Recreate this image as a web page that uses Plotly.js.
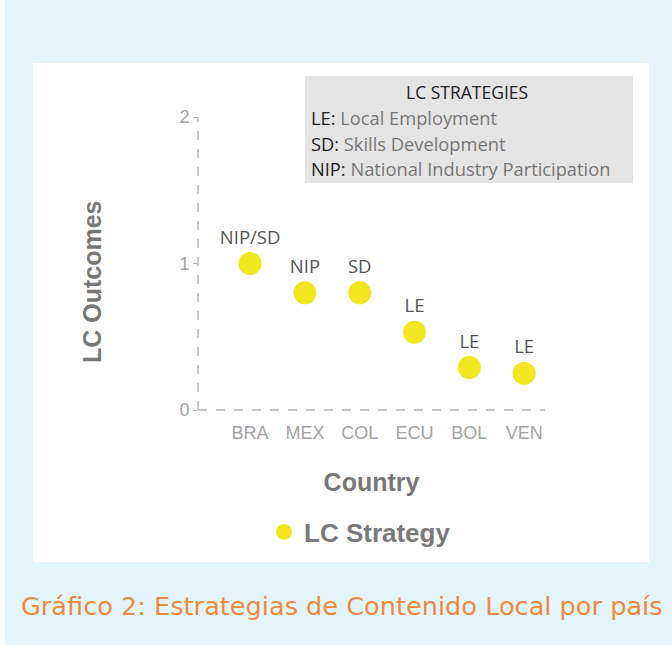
<!DOCTYPE html>
<html>
<head>
<meta charset="utf-8">
<script src="https://cdn.plot.ly/plotly-3.0.1.min.js"></script>
<style>html,body{margin:0;padding:0;background:#fff;}#chart{width:672px;height:645px;}</style>
</head>
<body>
<div id="chart"></div>
<script>
const countries = ["BRA", "MEX", "COL", "ECU", "BOL", "VEN"];
const outcomes = [1.0, 0.80, 0.80, 0.53, 0.29, 0.25];
const strategies = ["NIP/SD", "NIP", "SD", "LE", "LE", "LE"];
const seriesName = "LC Strategy";
const yTicks = [0, 1, 2];
const xTitle = "Country";
const yTitle = "LC Outcomes";
const legendTitle = "LC STRATEGIES";
const legendCodes = ["LE:", "SD:", "NIP:"];
const legendNames = ["Local Employment", "Skills Development", "National Industry Participation"];
const caption = "Gráfico 2: Estrategias de Contenido Local por país";

// plot area geometry (pixels)
const W = 672, H = 645, L = 198, R = 545, T = 117, B = 410;
const pw = R - L, ph = B - T;
const px = x => (x - L) / pw;
const py = y => (B - y) / ph;

const trace = {
  type: "scatter",
  mode: "markers+text",
  name: seriesName,
  x: countries,
  y: outcomes,
  text: strategies,
  textposition: "top center",
  textfont: {family: "Open Sans, Noto Sans, sans-serif", size: 18.5, color: "#555555"},
  marker: {size: 23, color: "#f1e620"},
  cliponaxis: false,
  hoverinfo: "x+y+text"
};

const shapes = [
  {type: "rect", xref: "paper", yref: "paper", x0: px(5), x1: px(672), y0: py(645), y1: py(0),
   fillcolor: "#e3f4fd", line: {width: 0}, layer: "below"},
  {type: "rect", xref: "paper", yref: "paper", x0: px(33), x1: px(649), y0: py(562), y1: py(63),
   fillcolor: "#ffffff", line: {width: 0}, layer: "below"},
  {type: "rect", xref: "paper", yref: "paper", x0: px(305), x1: px(633), y0: py(183), y1: py(76),
   fillcolor: "#e5e4e4", line: {width: 0}, layer: "below"},
  {type: "line", xref: "paper", yref: "paper", x0: 0, x1: 0, y0: 0, y1: 1,
   line: {color: "#b0b0b0", width: 1.3, dash: "dash"}, layer: "below"},
  {type: "line", xref: "paper", yref: "paper", x0: 0, x1: 1, y0: 0, y1: 0,
   line: {color: "#b0b0b0", width: 1.3, dash: "dash"}, layer: "below"}
];

const annotations = [
  {xref: "paper", yref: "paper", x: px(467), y: py(92), xanchor: "center", yanchor: "middle",
   text: legendTitle, showarrow: false,
   font: {family: "Open Sans, Noto Sans, sans-serif", size: 17.5, color: "#222222"}},
  {xref: "paper", yref: "paper", x: px(92), y: py(282), xanchor: "center", yanchor: "middle",
   text: "<b>" + yTitle + "</b>", textangle: -90, showarrow: false,
   font: {family: "Liberation Sans, Arial, sans-serif", size: 25, color: "#777777"}}
];
const lineY = [117, 143, 168];
legendCodes.forEach((c, i) => {
  annotations.push({
    xref: "paper", yref: "paper", x: px(309), y: py(lineY[i]), xanchor: "left", yanchor: "middle",
    text: "<span style='color:#222222'>" + c + "</span> <span style='color:#777777'>" + legendNames[i] + "</span>",
    showarrow: false,
    font: {family: "Open Sans, Noto Sans, sans-serif", size: 18.3, color: "#777777"}
  });
});
annotations.push({
  xref: "paper", yref: "paper", x: px(342), y: py(606), xanchor: "center", yanchor: "middle",
  text: caption, showarrow: false,
  font: {family: "DejaVu Sans, sans-serif", size: 25.6, color: "#f08a3a"}
});

const layout = {
  width: W, height: H,
  margin: {l: L, r: W - R, t: T, b: H - B, pad: 0},
  paper_bgcolor: "#ffffff",
  plot_bgcolor: "rgba(0,0,0,0)",
  showlegend: true,
  legend: {
    orientation: "h", x: px(264), y: py(532), xanchor: "left", yanchor: "middle",
    font: {family: "Liberation Sans, Arial, sans-serif", size: 26, color: "#7a7a7a", weight: "bold"},
    bgcolor: "rgba(0,0,0,0)"
  },
  xaxis: {
    type: "category",
    range: [-0.95, 5.38],
    showgrid: false, zeroline: false, showline: false,
    ticks: "", ticklabelstandoff: 10,
    tickfont: {family: "Liberation Sans, Arial, sans-serif", size: 18, color: "#a3a3a3"},
    title: {text: "<b>" + xTitle + "</b>", standoff: 31,
            font: {family: "Liberation Sans, Arial, sans-serif", size: 25, color: "#777777"}}
  },
  yaxis: {
    range: [0, 2],
    tickvals: yTicks,
    showgrid: false, zeroline: false, showline: false,
    ticks: "outside", ticklen: 4, tickcolor: "#b0b0b0",
    tickfont: {family: "Liberation Sans, Arial, sans-serif", size: 18, color: "#a3a3a3"}
  },
  shapes: shapes,
  annotations: annotations
};

Plotly.newPlot("chart", [trace], layout, {displayModeBar: false, staticPlot: true});
</script>
</body>
</html>
